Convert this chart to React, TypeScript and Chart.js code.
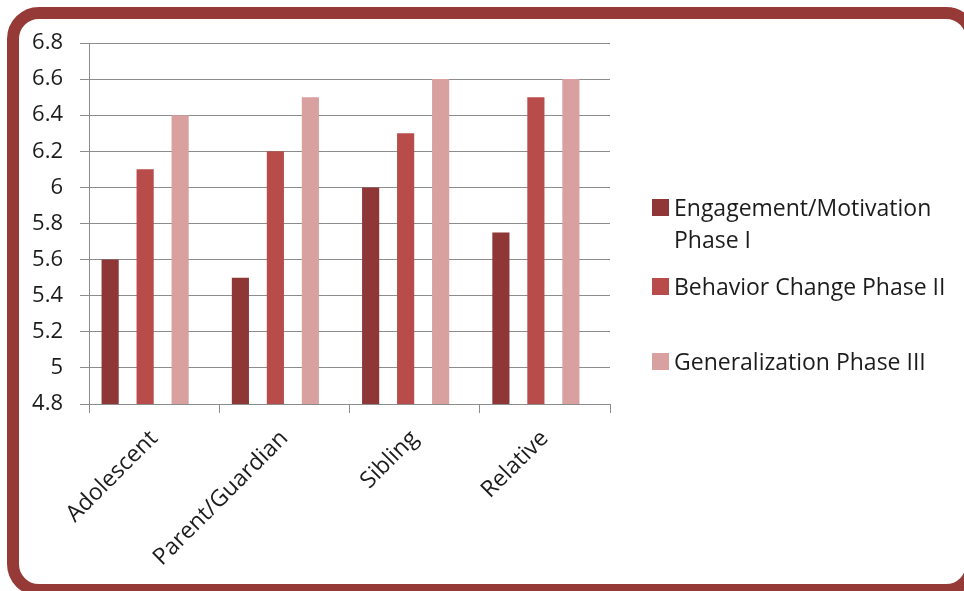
import { useEffect, useRef } from 'react';
import { Chart, registerables } from 'chart.js';

Chart.register(...registerables);

const categories = ['Adolescent', 'Parent/Guardian', 'Sibling', 'Relative'];
const seriesNames = [
  'Engagement/Motivation Phase I',
  'Behavior Change Phase II',
  'Generalization Phase III',
];
const phase1Values = [5.6, 5.5, 6.0, 5.75];
const phase2Values = [6.1, 6.2, 6.3, 6.5];
const phase3Values = [6.4, 6.5, 6.6, 6.6];
const yTickValues = [4.8, 5.0, 5.2, 5.4, 5.6, 5.8, 6.0, 6.2, 6.4, 6.6, 6.8];
const seriesColors = ['#8E3736', '#B84C4A', '#D8A09F'];

const FONT = '"Open Sans", "Noto Sans", sans-serif';
const TEXT = '#1c1c1c';
const GRID = '#8c8c8c';
const FRAME = '#963A38';

// layout constants (legend placement)
const LEGEND_SQUARE_X = 652;
const LEGEND_TEXT_X = 674;
const LEGEND_BASELINES = [216, 295, 370];
const LEGEND_LINE_H = 32;
const LEGEND_MAX_W = 285;
const GROUP_SHIFT = 0.069; // groups sit slightly left of category centre

function wrapText(ctx: CanvasRenderingContext2D, text: string, maxW: number): string[] {
  const words = text.split(' ');
  const lines: string[] = [];
  let cur = '';
  for (const w of words) {
    const test = cur ? cur + ' ' + w : w;
    if (cur && ctx.measureText(test).width > maxW) {
      lines.push(cur);
      cur = w;
    } else {
      cur = test;
    }
  }
  if (cur) lines.push(cur);
  return lines;
}

const sideLegend = {
  id: 'sideLegend',
  afterDraw(chart: any) {
    const ctx: CanvasRenderingContext2D = chart.ctx;
    ctx.save();
    ctx.font = `23px ${FONT}`;
    ctx.textBaseline = 'alphabetic';
    ctx.textAlign = 'left';
    chart.data.datasets.forEach((ds: any, i: number) => {
      const base = LEGEND_BASELINES[i];
      ctx.fillStyle = ds.backgroundColor;
      ctx.fillRect(LEGEND_SQUARE_X, base - 17, 17, 17);
      ctx.fillStyle = TEXT;
      const lines = wrapText(ctx, ds.label, LEGEND_MAX_W);
      lines.forEach((ln, k) => ctx.fillText(ln, LEGEND_TEXT_X, base + k * LEGEND_LINE_H));
    });
    ctx.restore();
  },
};

export default function App() {
  const ref = useRef<HTMLCanvasElement | null>(null);

  useEffect(() => {
    if (!ref.current) return;
    const seriesValues = [phase1Values, phase2Values, phase3Values];
    const chart = new Chart(ref.current, {
      type: 'bar',
      data: {
        labels: categories,
        datasets: seriesNames.map((name, s) => ({
          label: name,
          data: seriesValues[s].map((v, i) => ({ x: i, y: v })),
          backgroundColor: seriesColors[s],
          borderWidth: 0,
          xAxisID: 'xb',
          yAxisID: 'y',
          categoryPercentage: 0.806,
          barPercentage: 0.49,
        })),
      },
      options: {
        responsive: false,
        animation: false,
        layout: { padding: { left: 0, top: 43, right: 354, bottom: 0 } },
        plugins: {
          legend: { display: false },
          tooltip: { enabled: false },
        },
        scales: {
          xb: {
            type: 'linear',
            display: false,
            offset: false,
            grid: { offset: false },
            min: -0.5 + GROUP_SHIFT,
            max: categories.length - 0.5 + GROUP_SHIFT,
            afterBuildTicks: (axis: any) => {
              axis.ticks = categories.map((_, i) => ({ value: i }));
            },
          },
          x: {
            type: 'category',
            labels: categories,
            offset: true,
            position: 'bottom',
            grid: {
              offset: true,
              drawOnChartArea: false,
              drawTicks: true,
              tickLength: 9,
              color: GRID,
              lineWidth: 1,
            },
            border: { display: true, color: GRID, width: 1 },
            ticks: {
              minRotation: 45,
              maxRotation: 45,
              autoSkip: false,
              padding: 12,
              labelOffset: 0,
              color: TEXT,
              font: { family: FONT, size: 23 },
            },
            afterFit: (scale: any) => {
              scale.height = 187;
            },
          },
          y: {
            type: 'linear',
            position: 'left',
            min: 4.8,
            max: 6.8,
            grid: {
              color: GRID,
              lineWidth: 1,
              tickLength: 9,
              drawTicks: true,
            },
            border: { display: true, color: GRID, width: 1 },
            ticks: {
              padding: 17,
              color: TEXT,
              font: { family: FONT, size: 22 },
              callback: (value: any) => String(Number(Number(value).toFixed(1))),
            },
            afterBuildTicks: (axis: any) => {
              axis.ticks = yTickValues.map((v) => ({ value: v }));
            },
            afterFit: (scale: any) => {
              scale.width = 89;
            },
          },
        },
      },
      plugins: [sideLegend],
    });
    return () => chart.destroy();
  }, []);

  return (
    <div
      style={{
        position: 'fixed',
        left: 0,
        top: 0,
        width: 964,
        height: 591,
        overflow: 'hidden',
        background: '#ffffff',
      }}
    >
      <div
        style={{
          position: 'absolute',
          left: 7,
          top: 7,
          width: 971,
          height: 589,
          border: `12px solid ${FRAME}`,
          borderRadius: 32,
          boxSizing: 'border-box',
          background: '#ffffff',
        }}
      />
      <canvas
        ref={ref}
        width={964}
        height={591}
        style={{ position: 'absolute', left: 0, top: 0, width: 964, height: 591 }}
      />
    </div>
  );
}
